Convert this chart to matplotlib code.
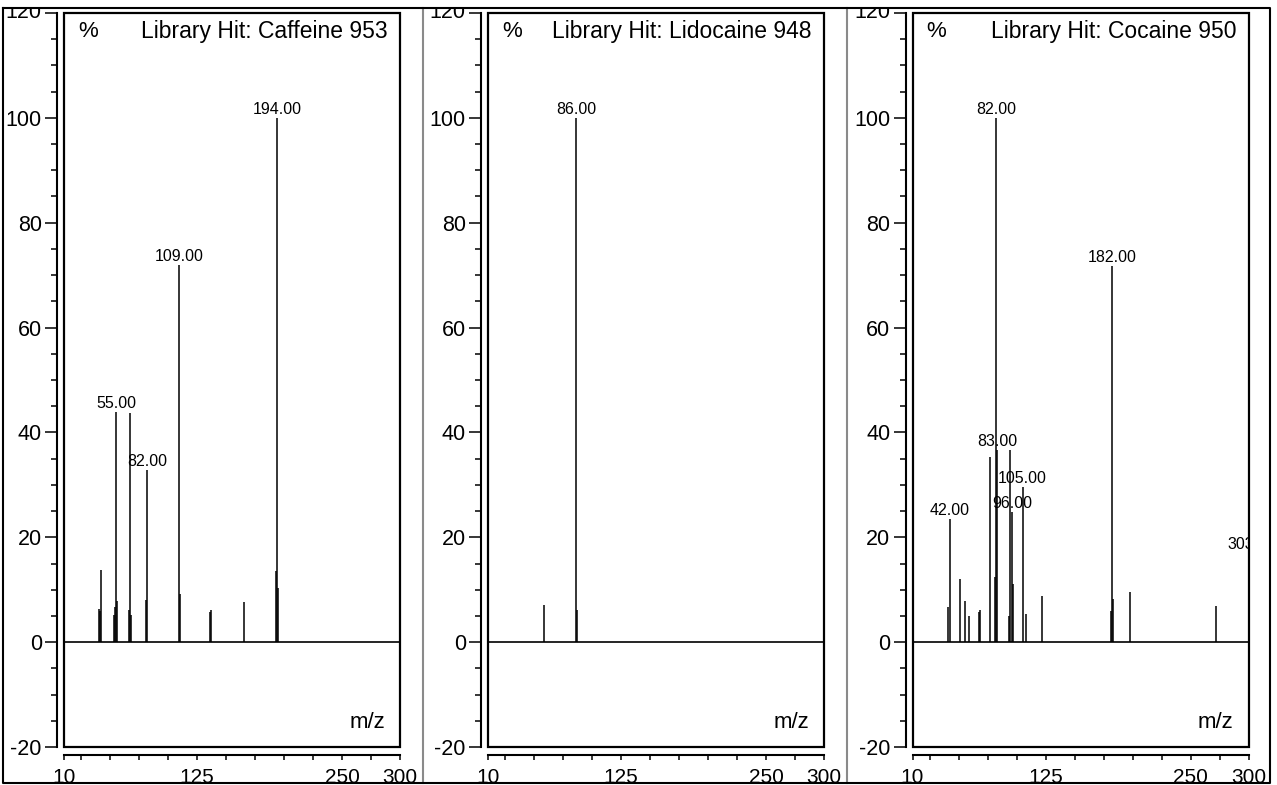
import matplotlib
matplotlib.use("Agg")
import matplotlib.pyplot as plt
from matplotlib.patches import Rectangle
from matplotlib.lines import Line2D

plt.rcParams['font.family'] = ['Liberation Sans', 'DejaVu Sans']
plt.rcParams['axes.unicode_minus'] = False

# ---- data (m/z, relative intensity %) ----
caffeine_mz = [40, 41, 42, 53, 54, 55, 56, 66, 67, 68, 81, 82, 109, 110,
               136, 137, 165, 193, 194, 195]
caffeine_int = [6.3, 6.0, 13.7, 5.1, 6.7, 43.9, 7.9, 6.2, 43.7, 5.1, 8.1, 32.8,
                72.0, 9.1, 5.8, 6.1, 7.7, 13.5, 100.0, 10.3]
caffeine_labels = [55, 82, 109, 194]

lidocaine_mz = [58, 86, 87]
lidocaine_int = [7.1, 100.0, 6.2]
lidocaine_labels = [86]

cocaine_mz = [41, 42, 51, 55, 59, 67, 68, 77, 81, 82, 83, 93, 94, 96, 97,
              105, 108, 122, 181, 182, 183, 198, 272, 303]
cocaine_int = [6.7, 23.4, 12.1, 7.8, 5.0, 5.7, 6.2, 35.4, 12.4, 100.0, 36.7,
               5.0, 36.6, 24.8, 11.0, 29.5, 5.3, 8.8, 5.9, 71.8, 8.2, 9.5,
               6.9, 17.0]
cocaine_labels = [42, 82, 83, 96, 105, 182, 303]

titles = ["Library Hit: Caffeine 953", "Library Hit: Lidocaine 948",
          "Library Hit: Cocaine 950"]

x_major = [10, 125, 250, 300]
x_major_labels = ["10", "125", "250", "300"]
x_minor = [25, 50, 75, 100, 150, 175, 200, 225, 275]
y_major = [-20, 0, 20, 40, 60, 80, 100, 120]
y_major_labels = ["-20", "0", "20", "40", "60", "80", "100", "120"]
y_minor = list(range(-20, 121, 5))

# ---- layout ----
W, H = 1277, 785
fig = plt.figure(figsize=(W / 100, H / 100), dpi=100)


def fx(px):
    return px / W


def fy(py):
    return 1 - py / H


box_lefts = [64, 488, 912.5]
box_w, box_top, box_bot = 336, 13, 747

panels = [
    (caffeine_mz, caffeine_int, caffeine_labels),
    (lidocaine_mz, lidocaine_int, lidocaine_labels),
    (cocaine_mz, cocaine_int, cocaine_labels),
]

SPINE_OUT = 5
YT_LEN = 9
YT_PAD = 2
YT_SIZE = 15.5

for left, (mz, inten, labels), title in zip(box_lefts, panels, titles):
    ax = fig.add_axes([fx(left), fy(box_bot), box_w / W, (box_bot - box_top) / H])
    ax.set_xlim(10, 300)
    ax.set_ylim(-20, 120)
    ax.vlines(mz, 0, inten, colors='black', lw=1.1)
    ax.axhline(0, color='black', lw=1.2)
    for m in labels:
        h = inten[mz.index(m)]
        ax.text(m, h + 0.2, f"{m:.2f}", ha='center', va='bottom',
                fontsize=11.5, clip_on=True)

    ax.spines['top'].set_visible(False)
    ax.spines['right'].set_visible(False)
    ax.spines['left'].set_position(('outward', SPINE_OUT))
    ax.spines['bottom'].set_position(('outward', 6))
    for s in ('left', 'bottom'):
        ax.spines[s].set_linewidth(1.5)
    ax.add_patch(Rectangle((0, 0), 1, 1, transform=ax.transAxes, fill=False,
                           lw=1.6, ec='black', clip_on=False, zorder=5))

    ax.set_xticks(x_major)
    ax.set_xticklabels(x_major_labels)
    ax.set_xticks(x_minor, minor=True)
    ax.set_yticks(y_major)
    # top label drawn separately (sits slightly higher and is cut by the frame)
    ax.set_yticklabels(y_major_labels[:-1] + [""])
    ax.set_yticks(y_minor, minor=True)
    ax.tick_params(axis='y', which='major', length=YT_LEN, width=1.1, pad=YT_PAD,
                   labelsize=YT_SIZE)
    ax.tick_params(axis='y', which='minor', length=4, width=1.1)
    ax.tick_params(axis='x', which='both', length=3.6, width=1.1, pad=5.5,
                   labelsize=15)
    ax.annotate(y_major_labels[-1], xy=(0, y_major[-1]),
                xycoords=('axes fraction', 'data'),
                xytext=(-(SPINE_OUT + YT_LEN + YT_PAD), 2.5),
                textcoords='offset points', ha='right', va='center_baseline',
                fontsize=YT_SIZE, annotation_clip=False)

    ax.text(0.042, 0.975, '%', transform=ax.transAxes, ha='left',
            va='center', fontsize=16)
    ax.text(0.964, 0.975, title, transform=ax.transAxes, ha='right',
            va='center', fontsize=16.5)
    ax.text(0.955, 0.033, 'm/z', transform=ax.transAxes, ha='right',
            va='center', fontsize=16)

# ---- figure decorations: masks, separators, outer frame ----
fig.patches.append(Rectangle((0, fy(8)), 1, 1 - fy(8), transform=fig.transFigure,
                             fc='white', ec='none', zorder=10))
fig.patches.append(Rectangle((0, 0), 1, fy(783), transform=fig.transFigure,
                             fc='white', ec='none', zorder=10))
for sx in (423, 847):
    fig.lines.append(Line2D([fx(sx), fx(sx)], [fy(8), fy(783)],
                            transform=fig.transFigure, color='#8a8a8a',
                            lw=1.5, zorder=11))
fig.lines.append(Line2D([fx(3), fx(1270), fx(1270), fx(3), fx(3)],
                        [fy(8), fy(8), fy(783), fy(783), fy(8)],
                        transform=fig.transFigure, color='black', lw=1.5,
                        zorder=12))

fig.savefig("out.png", dpi=100)
